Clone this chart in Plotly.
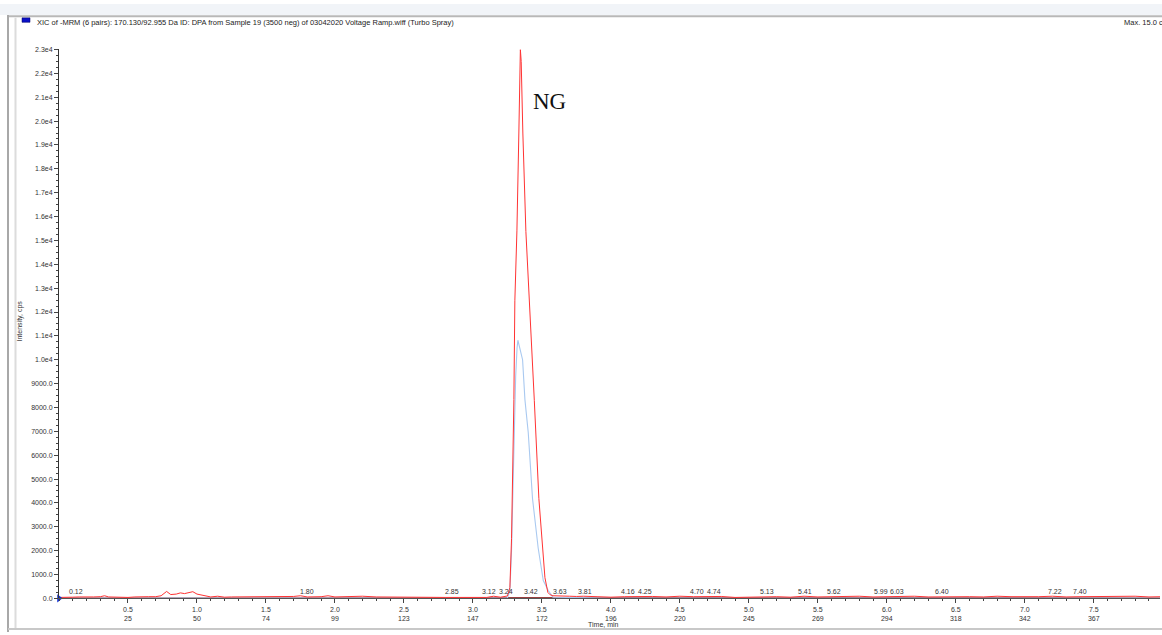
import plotly.graph_objects as go

W, H = 1162, 635

# ---------------- data ----------------
red_t = [0.00, 0.05, 0.10, 0.15, 0.20, 0.25, 0.30, 0.33, 0.36, 0.40, 0.45, 0.50, 0.55, 0.60, 0.65, 0.70,
         0.74, 0.78, 0.81, 0.85, 0.88, 0.91, 0.94, 0.97, 1.00, 1.05, 1.10, 1.15, 1.20, 1.25, 1.30, 1.40,
         1.50, 1.60, 1.70, 1.75, 1.80, 1.90, 1.95, 2.00, 2.10, 2.20, 2.30, 2.40, 2.50, 2.60, 2.70, 2.80,
         2.90, 3.00, 3.10, 3.15, 3.20, 3.25, 3.268, 3.28, 3.29, 3.297, 3.304, 3.319, 3.333, 3.344, 3.35,
         3.362, 3.384, 3.40, 3.413, 3.445, 3.478, 3.50, 3.522, 3.543, 3.56, 3.58, 3.63, 3.70, 3.75, 3.80,
         3.90, 4.00, 4.10, 4.20, 4.30, 4.40, 4.50, 4.60, 4.70, 4.80, 4.90, 5.00, 5.10, 5.20, 5.30, 5.40,
         5.50, 5.60, 5.70, 5.80, 5.90, 6.00, 6.10, 6.20, 6.30, 6.40, 6.50, 6.60, 6.70, 6.80, 6.90, 7.00,
         7.10, 7.20, 7.30, 7.40, 7.50, 7.60, 7.70, 7.80, 7.90, 8.00]
red_v = [40, 60, 50, 60, 50, 60, 70, 110, 60, 50, 40, 40, 60, 50, 70, 70,
         110, 290, 160, 180, 230, 200, 240, 280, 180, 120, 60, 90, 50, 60, 60, 70,
         50, 60, 80, 110, 60, 70, 110, 60, 70, 90, 60, 50, 40, 50, 30, 40,
         40, 30, 40, 90, 50, 100, 450, 2500, 5500, 8330, 12470, 15400, 19500, 23000, 22500,
         19500, 15375, 13500, 12470, 8300, 4185, 2400, 870, 250, 150, 110, 90, 90, 80, 90,
         70, 50, 70, 90, 80, 60, 90, 70, 80, 80, 40, 60, 50, 70, 50, 90,
         60, 70, 80, 90, 60, 70, 60, 90, 60, 70, 80, 70, 60, 90, 70, 60,
         70, 90, 60, 70, 80, 60, 70, 90, 60, 70]

blue_t = [0.00, 1.00, 2.00, 3.00, 3.25, 3.268, 3.28, 3.29, 3.30, 3.31, 3.32, 3.326, 3.335, 3.345,
          3.36, 3.377, 3.401, 3.432, 3.473, 3.51, 3.546, 3.58, 4.00, 5.00, 6.00, 7.00, 8.00]
blue_v = [10, 10, 10, 10, 20, 300, 2000, 4500, 7000, 9300, 10500, 10816, 10600, 10300,
          10000, 8330, 6950, 4185, 2110, 745, 330, 50, 10, 10, 10, 10, 10]

dark_t = [0.0, 1.0, 2.0, 3.0, 3.5, 4.0, 5.0, 6.0, 7.0, 8.0]
dark_v = [15, 20, 15, 20, 20, 15, 20, 15, 20, 15]

peak_labels = ["0.12", "1.80", "2.85", "3.12", "3.24", "3.42", "3.63", "3.81", "4.16", "4.25",
               "4.70", "4.74", "5.13", "5.41", "5.62", "5.99", "6.03", "6.40", "7.22", "7.40"]

x_tickvals = [0.5, 1.0, 1.5, 2.0, 2.5, 3.0, 3.5, 4.0, 4.5, 5.0, 5.5, 6.0, 6.5, 7.0, 7.5]
x_scans = ["25", "50", "74", "99", "123", "147", "172", "196", "220", "245", "269", "294", "318", "342", "367"]

y_tickvals = [0, 1000, 2000, 3000, 4000, 5000, 6000, 7000, 8000, 9000, 10000, 11000, 12000,
              13000, 14000, 15000, 16000, 17000, 18000, 19000, 20000, 21000, 22000, 23000]
y_ticktext = ["0.0", "1000.0", "2000.0", "3000.0", "4000.0", "5000.0", "6000.0", "7000.0", "8000.0",
              "9000.0", "1.0e4", "1.1e4", "1.2e4", "1.3e4", "1.4e4", "1.5e4", "1.6e4", "1.7e4",
              "1.8e4", "1.9e4", "2.0e4", "2.1e4", "2.2e4", "2.3e4"]

title_text = ("XIC of -MRM (6 pairs): 170.130/92.955 Da ID: DPA from Sample 19 (3500 neg) "
              "of 03042020 Voltage Ramp.wiff (Turbo Spray)")

# label nudges (pixels) used by the software to separate crowded labels
label_nudge = {"4.16": -5, "4.70": -10, "4.74": 1, "5.99": -4, "6.03": 6}

# ---------------- figure ----------------
def px(x):
    return x / W

def py(y):
    return 1 - y / H

FONT = "Liberation Sans, Arial, sans-serif"

fig = go.Figure()
fig.add_trace(go.Scatter(x=dark_t, y=dark_v, mode="lines", line=dict(color="#7a0000", width=1.2),
                         hoverinfo="skip"))
fig.add_trace(go.Scatter(x=blue_t, y=blue_v, mode="lines", line=dict(color="#a9c9f0", width=1.1),
                         hoverinfo="skip"))
fig.add_trace(go.Scatter(x=red_t, y=red_v, mode="lines", line=dict(color="#ff3333", width=1.0),
                         hoverinfo="skip"))
fig.add_trace(go.Scatter(x=[0], y=[0], mode="markers", cliponaxis=False,
                         marker=dict(symbol="triangle-right", color="#1030d0", size=7),
                         hoverinfo="skip"))

annotations = []
for lab in peak_labels:
    annotations.append(dict(x=float(lab), y=py(594), xref="x", yref="paper", text=lab,
                            xanchor="center", yanchor="middle", xshift=label_nudge.get(lab, 0),
                            showarrow=False, font=dict(family=FONT, size=7, color="#333333")))

annotations += [
    dict(x=px(35), y=py(19), xref="paper", yref="paper", text=title_text, showarrow=False,
         xanchor="left", yanchor="middle", font=dict(family=FONT, size=7.5, color="#222222")),
    dict(x=px(1122), y=py(19), xref="paper", yref="paper", text="Max. 15.0 cps.", showarrow=False,
         xanchor="left", yanchor="middle", font=dict(family=FONT, size=7.5, color="#222222")),
    dict(x=px(603), y=py(627), xref="paper", yref="paper", text="Time, min", showarrow=False,
         xanchor="center", yanchor="middle", font=dict(family=FONT, size=7, color="#333333")),
    dict(x=px(20), y=py(320), xref="paper", yref="paper", text="Intensity, cps", showarrow=False,
         xanchor="center", yanchor="middle",
         textangle=-90, font=dict(family=FONT, size=7, color="#333333")),
    dict(x=px(549), y=py(99), xref="paper", yref="paper", text="NG", showarrow=False,
         xanchor="center", yanchor="middle",
         font=dict(family="Liberation Serif, serif", size=23, color="#111111")),
]

shapes = [
    dict(type="rect", xref="paper", yref="paper", x0=0, x1=1, y0=py(11), y1=1,
         fillcolor="#f1f4f8", line=dict(width=0), layer="below"),
    dict(type="line", xref="paper", yref="paper", x0=px(8), x1=1.01, y0=py(12.5), y1=py(12.5),
         line=dict(color="#b8b8b8", width=2)),
    dict(type="line", xref="paper", yref="paper", x0=px(8), x1=px(8), y0=py(11), y1=py(635),
         line=dict(color="#a8a8a8", width=2)),
    dict(type="line", xref="paper", yref="paper", x0=px(15.5), x1=px(15.5), y0=py(14), y1=py(632),
         line=dict(color="#dcdcdc", width=2)),
    dict(type="line", xref="paper", yref="paper", x0=px(8), x1=1.01, y0=py(632), y1=py(632),
         line=dict(color="#c8c8c8", width=2)),
    dict(type="rect", xref="paper", yref="paper", x0=px(22), x1=px(30), y0=py(18.5), y1=py(14),
         fillcolor="#0a10c8", line=dict(color="#000060", width=0.5)),
]

fig.update_layout(
    width=W, height=H,
    margin=dict(l=0, r=0, t=0, b=0),
    paper_bgcolor="white", plot_bgcolor="white",
    showlegend=False,
    annotations=annotations,
    shapes=shapes,
    xaxis=dict(domain=[px(59), px(1160)], range=[0, 7.98],
               tickvals=x_tickvals,
               ticktext=[f"{v:.1f}<br>{s}" for v, s in zip(x_tickvals, x_scans)],
               ticks="outside", ticklen=4, tickcolor="#444444", tickwidth=1,
               minor=dict(dtick=0.1, ticks="outside", ticklen=2, tickcolor="#444444"),
               showline=True, linecolor="#555555", linewidth=1,
               showgrid=False, zeroline=False,
               tickfont=dict(family=FONT, size=7, color="#333333")),
    yaxis=dict(domain=[py(601), py(46)], range=[0, 23000],
               tickvals=y_tickvals, ticktext=y_ticktext,
               ticks="outside", ticklen=4, tickcolor="#444444", tickwidth=1,
               minor=dict(dtick=250, ticks="outside", ticklen=2, tickcolor="#444444"),
               showline=True, linecolor="#333333", linewidth=1,
               showgrid=False, zeroline=False,
               tickfont=dict(family=FONT, size=7, color="#333333")),
)

fig.write_html("out.html")
